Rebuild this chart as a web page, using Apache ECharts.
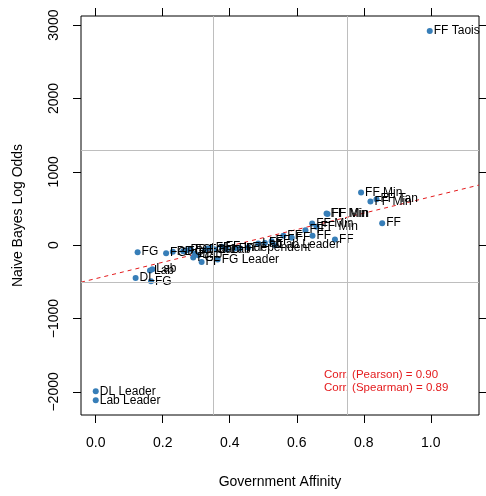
<!DOCTYPE html>
<html>
<head>
<meta charset="utf-8">
<script src="https://cdn.jsdelivr.net/npm/echarts@6/dist/echarts.min.js"></script>
<style>
  html, body { margin: 0; padding: 0; background: #fff; }
  #main { width: 486px; height: 496px; }
</style>
</head>
<body>
<div id="main"></div>
<script>
// speakers / groups
var names = ['DL Leader', 'Lab Leader', 'DL', 'FG', 'Lab', 'Lab', 'FG', 'FG', 'PD', 'FG',
             'PD', 'FG', 'FG', 'FF', 'Lab', 'FF', 'FG', 'Lab', 'FF', 'Lab',
             'FG Leader', 'FF', 'Lab', 'FF', 'Independent', 'FF', 'Lab', 'FF', 'FF', 'Lab Leader',
             'FF', 'FF', 'FF', 'FF Min', 'FF Min', 'FF', 'FF Min', 'FF Min', 'FF', 'FF Min',
             'FF Min', 'FF Tan', 'FF', 'FF Taois'];
var affinity = [0.0, 0.0, 0.119, 0.165, 0.162, 0.169, 0.125, 0.210, 0.230, 0.261,
                0.271, 0.284, 0.291, 0.296, 0.306, 0.316, 0.326, 0.333, 0.346, 0.356,
                0.364, 0.376, 0.391, 0.415, 0.430, 0.455, 0.485, 0.505, 0.525, 0.535,
                0.560, 0.585, 0.626, 0.646, 0.659, 0.647, 0.689, 0.692, 0.714, 0.792,
                0.820, 0.838, 0.855, 0.997];
var logOdds = [-1992, -2115, -446, -491, -345, -327, -95, -109, -91, -82,
               -68, -59, -168, -113, -136, -228, -68, -45, -31, -59,
               -195, -23, -59, -45, -41, -31, 23, 31, 55, 0,
               127, 100, 205, 296, 250, 127, 432, 425, 78, 719,
               596, 627, 300, 2919];

var xTicks = [0, 0.2, 0.4, 0.6, 0.8, 1.0];
var yTicks = [-2000, -1000, 0, 1000, 2000, 3000];
var vLines = [0.35, 0.75];
var hLines = [1300, -500];
var fitIntercept = -456, fitSlope = 1115;
var corrText = ['Corr. (Pearson) = 0.90', 'Corr. (Spearman) = 0.89'];

var xMin = -0.044, xMax = 1.144, yMin = -2315, yMax = 3124;

var pts = [];
for (var i = 0; i < names.length; i++) {
    pts.push({ value: [affinity[i], logOdds[i]], name: names[i] });
}

var fit = [[xMin, fitIntercept + fitSlope * xMin], [xMax, fitIntercept + fitSlope * xMax]];

var refLines = [];
vLines.forEach(function (v) { refLines.push({ xAxis: v }); });
hLines.forEach(function (v) { refLines.push({ yAxis: v }); });

var font = 'Liberation Sans, Arial, sans-serif';

// second axis on the opposite side: ticks only
function tickOnly(pos, min, max, ticks) {
    return {
        type: 'value', position: pos, min: min, max: max,
        axisLine: { show: false, onZero: false },
        splitLine: { show: false },
        axisTick: { show: true, inside: false, length: 8, customValues: ticks,
                    lineStyle: { color: '#000', width: 1 } },
        axisLabel: { show: false }
    };
}

var option = {
    backgroundColor: '#fff',
    animation: false,
    textStyle: { fontFamily: font },
    grid: {
        left: 81, right: 7, top: 16, bottom: 81,
        show: true, borderColor: '#000', borderWidth: 1, backgroundColor: 'transparent'
    },
    xAxis: [
        {
            type: 'value', min: xMin, max: xMax,
            name: 'Government Affinity', nameLocation: 'middle', nameGap: 60,
            nameTextStyle: { fontSize: 14, color: '#000', fontFamily: font },
            axisLine: { show: false, onZero: false },
            splitLine: { show: false },
            axisTick: { show: true, length: 8, customValues: xTicks,
                        lineStyle: { color: '#000', width: 1 } },
            axisLabel: { customValues: xTicks, fontSize: 14, color: '#000', margin: 21,
                         formatter: function (v) { return v.toFixed(1); } }
        },
        tickOnly('top', xMin, xMax, xTicks)
    ],
    yAxis: [
        {
            type: 'value', min: yMin, max: yMax,
            name: 'Naive Bayes Log Odds', nameLocation: 'middle', nameGap: 56,
            nameTextStyle: { fontSize: 14, color: '#000', fontFamily: font },
            axisLine: { show: false, onZero: false },
            splitLine: { show: false },
            axisTick: { show: true, length: 8, customValues: yTicks,
                        lineStyle: { color: '#000', width: 1 } },
            axisLabel: { customValues: yTicks, fontSize: 14, color: '#000', margin: 20,
                         rotate: 90,
                         formatter: function (v) { return String(v).replace('-', '\u2212'); } }
        },
        tickOnly('right', yMin, yMax, yTicks)
    ],
    series: [
        {
            type: 'line',
            data: fit,
            symbol: 'none',
            silent: true,
            lineStyle: { color: '#e41a1c', width: 1, type: [4, 4] },
            markLine: {
                silent: true,
                symbol: 'none',
                label: { show: false },
                lineStyle: { color: '#bebebe', width: 1, type: 'solid' },
                data: refLines
            },
            z: 1
        },
        {
            type: 'scatter',
            data: pts,
            symbolSize: 6,
            itemStyle: { color: '#377eb8', opacity: 1 },
            label: {
                show: true, position: 'right', distance: 1,
                formatter: '{b}', color: '#000', fontSize: 12, fontFamily: font
            },
            z: 3
        }
    ],
    graphic: [
        {
            type: 'text', left: 324, top: 368,
            style: { text: corrText.join('\n'), fill: '#e41a1c', fontSize: 11.5,
                     fontFamily: font, lineHeight: 13 }
        }
    ]
};

var myChart = echarts.init(document.getElementById('main'));
myChart.setOption(option);
</script>
</body>
</html>
